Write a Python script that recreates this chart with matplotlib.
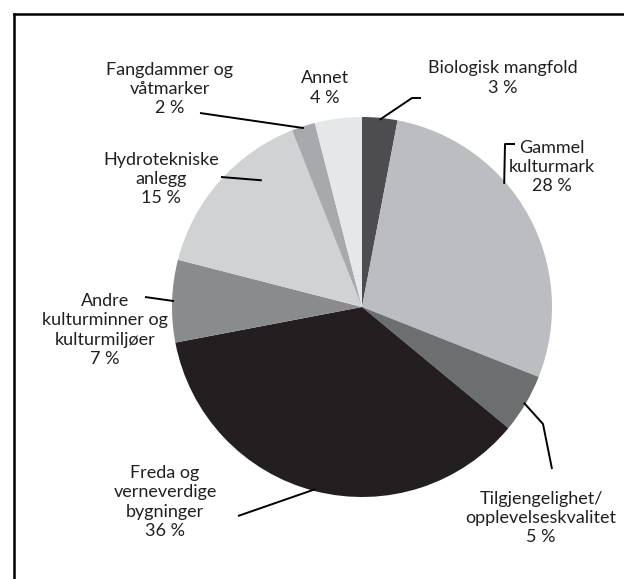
import matplotlib
matplotlib.use("Agg")
import matplotlib.pyplot as plt
import numpy as np
from matplotlib.lines import Line2D

# ---- data ----
categories = ["Biologisk mangfold", "Gammel\nkulturmark", "Tilgjengelighet/\nopplevelseskvalitet",
              "Freda og\nverneverdige\nbygninger", "Andre\nkulturminner og\nkulturmiljøer",
              "Hydrotekniske\nanlegg", "Fangdammer og\nvåtmarker", "Annet"]
values = [3, 28, 5, 36, 7, 15, 2, 4]
colors = ["#4d4d4f", "#bcbdc0", "#6d6e70", "#231f20", "#8a8b8d", "#d1d2d4", "#a7a9ac", "#e6e7e8"]

# layout (pixel positions in a 624x579 image)
W, H = 624, 579
CX, CY, R = 362, 307, 190
label_pos = [(503, 78), (552, 167), (541, 518), (165, 502), (105, 330), (161, 179), (170, 89), (325, 88)]
# leader-line elbows (pixels) from label towards the wedge, None = no leader
leaders = [
    [(421, 98), (412, 98)],
    [(515, 144), (505, 144)],
    [(552, 469), (543, 424)],
    [(238, 516)],
    [(145, 297)],
    [(221, 177)],
    [(200, 113)],
    None,
]
# anchor position inside each wedge: fraction of its angle, fraction of radius
anchor_frac = [0.5, 0.38, 0.5, 0.5, 0.5, 0.69, 0.5, 0.5]
anchor_rad = [0.99, 0.99, 0.99, 0.99, 0.99, 0.85, 0.99, 0.99]

plt.rcParams['font.family'] = ['Lato', 'DejaVu Sans']

fig = plt.figure(figsize=(W / 100, H / 100), dpi=100)
ax = fig.add_axes([0, 0, 1, 1])

def px(x, y):
    return (x - CX) / R, (CY - y) / R

wedges, _ = ax.pie(values, colors=colors, startangle=90, counterclock=False,
                   radius=1.0, center=(0, 0), wedgeprops=dict(linewidth=0))

ax.set_xlim((0 - CX) / R, (W - CX) / R)
ax.set_ylim((CY - H) / R, CY / R)
ax.set_aspect('auto')
ax.axis('off')

total = sum(values)
cum = 0
for i, (cat, v) in enumerate(zip(categories, values)):
    a0 = cum / total * 360
    cum += v
    a1 = cum / total * 360
    th = np.deg2rad(a0 + (a1 - a0) * anchor_frac[i])
    ex, ey = np.sin(th) * anchor_rad[i], np.cos(th) * anchor_rad[i]
    lx, ly = px(*label_pos[i])
    ax.text(lx, ly, f"{cat}\n{v} %", ha='center', va='center', fontsize=13,
            linespacing=1.25, color='#231f20')
    if leaders[i] is not None:
        pts = [px(*p) for p in leaders[i]] + [(ex, ey)]
        xs, ys = zip(*pts)
        ax.plot(xs, ys, color='black', lw=1.4, solid_capstyle='butt')

# frame (top and left edges visible)
fig.add_artist(Line2D([14 / W, 1], [1 - 14 / H, 1 - 14 / H], color='black', lw=1.8, transform=fig.transFigure))
fig.add_artist(Line2D([14 / W, 14 / W], [0, 1 - 14 / H], color='black', lw=1.8, transform=fig.transFigure))

fig.savefig("out.png", dpi=100)
